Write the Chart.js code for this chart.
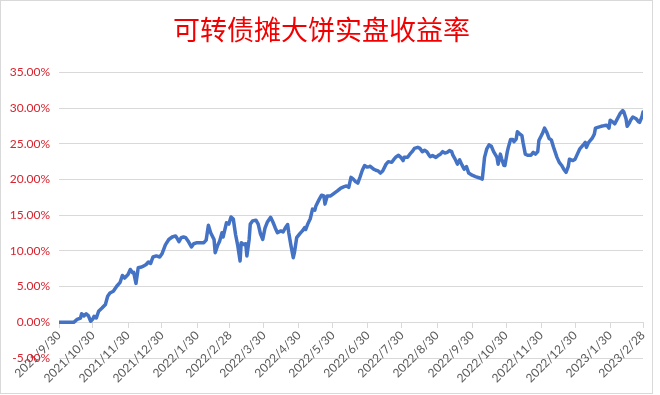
<!DOCTYPE html>
<html>
<head>
<meta charset="utf-8">
<script src="https://cdn.jsdelivr.net/npm/chart.js@4.4.1/dist/chart.umd.min.js"></script>
<style>
  html, body { margin: 0; padding: 0; background: #fff; }
  #wrap { position: relative; width: 660px; height: 395px; }
  #chart { position: absolute; left: 0; top: 0; }
  #frame { position: absolute; left: 0; top: 0; width: 651px; height: 392px; border: 1px solid #d9d9d9; pointer-events: none; }
</style>
</head>
<body>
<div id="wrap">
  <canvas id="chart" width="660" height="395"></canvas>
  <div id="frame"></div>
</div>
<script>
const titleText = "可转债摊大饼实盘收益率";

// x tick labels and their day offsets from 2021/9/30
const monthLabels = ["2021/9/30", "2021/10/30", "2021/11/30", "2021/12/30", "2022/1/30", "2022/2/28",
  "2022/3/30", "2022/4/30", "2022/5/30", "2022/6/30", "2022/7/30", "2022/8/30", "2022/9/30",
  "2022/10/30", "2022/11/30", "2022/12/30", "2023/1/30", "2023/2/28"];
const monthDays = [0, 30, 61, 91, 122, 151, 181, 212, 242, 273, 303, 334, 365, 395, 426, 456, 487, 516];

// days since 2021/9/30
const days = [0, 13, 16, 19, 20, 22, 24, 26, 28, 30, 31, 33, 35, 38, 41, 43, 45, 48, 51, 54, 56, 58, 61, 63, 65, 66, 68, 70, 73, 75, 77, 79, 81, 83, 86, 89, 91, 94,
  97, 100, 103, 104, 106, 108, 110, 112, 114, 117, 119, 122, 128, 130, 132, 134, 137, 138, 140, 142, 144, 145, 148, 150, 152, 154, 156, 158, 160, 161, 163, 165, 166, 168, 169, 171, 174, 176, 178, 180, 182, 184, 187,
  189, 191, 193, 196, 198, 200, 202, 203, 205, 207, 208, 210, 213, 215, 217, 218, 220, 222, 224, 226, 227, 230, 232, 234, 235, 237, 240, 243, 246, 249, 252, 254, 256, 258, 260, 262, 264, 266, 268, 270, 272, 274,
  275, 278, 280, 282, 284, 286, 289, 291, 294, 296, 298, 300, 302, 304, 305, 308, 310, 312, 314, 317, 319, 321, 323, 325, 327, 328, 330, 333, 335, 337, 339, 341, 343, 345, 347, 348, 350, 352, 354, 356, 358, 360, 362, 365, 368, 371, 374,
  376, 378, 380, 382, 384, 387, 388, 390, 391, 393, 394, 396, 397, 399, 401, 402, 404, 405, 407, 409, 410, 412, 414, 417, 419, 421, 423, 424, 427, 429, 431, 433, 435, 437, 440, 442, 444, 446, 448, 450,
  451, 454, 456, 458, 460, 463, 465, 466, 468, 471, 473, 474, 476, 479, 482, 484, 486, 487, 489, 491, 494, 496, 498, 499, 501, 502, 504, 505, 507, 510, 512, 513, 515, 516];

// cumulative return, %
const returns = [0, 0, 0.4, 0.6, 1.2, 0.9, 1.2, 0.9, 0.15, 0.5, 0.85, 0.6, 1.55, 2.0, 2.5, 3.65, 4.1, 4.35, 5.05, 5.6, 6.55, 6.2, 6.7, 7.4, 6.95, 7.0, 5.45, 7.65, 7.75, 7.9, 8.1, 8.45, 8.25, 9.15, 9.3, 9.15, 9.6, 10.85,
  11.6, 11.95, 12.1, 11.85, 11.3, 11.85, 11.95, 11.85, 11.4, 10.55, 11.0, 11.15, 11.15, 11.5, 13.6, 12.55, 11.6, 9.75, 10.7, 11.4, 12.55, 11.95, 13.95, 13.75, 14.75, 14.45, 12.3, 10.7, 8.6, 11.15, 10.9, 11.0, 9.3, 11.6, 13.75, 14.2, 14.3, 13.75, 12.4, 11.6, 13.2, 14.0, 14.7,
  14.05, 13.25, 12.55, 12.8, 12.65, 13.25, 13.7, 12.55, 10.7, 9.05, 9.75, 11.85, 12.45, 12.8, 13.25, 13.0, 13.85, 14.5, 15.85, 15.7, 16.3, 17.25, 17.8, 17.7, 16.55, 17.7, 17.7, 18.05, 18.4, 18.8, 19.0, 19.1, 18.9, 20.3, 20.05, 19.7, 19.5, 20.35, 21.3, 21.95, 21.75, 21.8,
  21.85, 21.45, 21.3, 21.2, 20.9, 21.2, 22.15, 22.5, 22.4, 22.85, 23.2, 23.4, 23.1, 22.65, 23.1, 23.1, 23.55, 23.9, 24.35, 24.5, 24.35, 23.9, 24.1, 23.9, 23.4, 23.2, 23.35, 23.1, 23.35, 23.55, 23.9, 23.7, 23.8, 24.05, 23.9, 23.4, 22.85, 22.15, 22.75, 22.05, 21.45, 21.8, 20.9, 20.6, 20.4, 20.25, 20.05,
  23.1, 24.3, 24.85, 24.65, 23.9, 23.1, 22.15, 23.55, 22.95, 22.0, 21.95, 23.8, 24.5, 25.6, 25.6, 25.3, 25.7, 26.7, 26.4, 26.15, 25.2, 23.55, 23.4, 23.4, 23.8, 23.55, 23.9, 25.45, 26.4, 27.2, 26.6, 25.75, 25.55, 24.5, 23.1, 22.4, 22.0, 21.45, 21.0, 21.85,
  22.85, 22.65, 22.85, 23.55, 24.25, 24.8, 25.2, 24.5, 25.2, 25.75, 26.35, 27.2, 27.3, 27.45, 27.55, 27.6, 27.2, 28.3, 28.1, 27.8, 28.7, 29.3, 29.65, 29.5, 28.5, 27.45, 27.95, 28.3, 28.75, 28.5, 28.1, 28.0, 28.75, 29.45];

const points = days.map((d, i) => ({ x: d, y: returns[i] }));

const chart = new Chart(document.getElementById("chart"), {
  type: "line",
  data: {
    datasets: [{
      data: points,
      borderColor: "#4472c4",
      borderWidth: 3.5,
      pointRadius: 0,
      tension: 0,
      borderJoinStyle: "round",
      borderCapStyle: "round"
    }]
  },
  options: {
    responsive: false,
    animation: false,
    layout: { padding: { left: 0, right: 17, top: 0, bottom: 37 } },
    plugins: {
      legend: { display: false },
      tooltip: { enabled: false },
      title: {
        display: true,
        text: titleText,
        color: "#f00000",
        font: { family: "'Noto Sans CJK SC'", size: 27, weight: "normal" },
        padding: { top: 14, bottom: 26 }
      }
    },
    scales: {
      x: {
        type: "linear",
        position: { y: 0 },
        min: 0,
        max: 516,
        afterBuildTicks: s => { s.ticks = monthDays.map(v => ({ value: v })); },
        ticks: {
          autoSkip: false,
          minRotation: 45,
          maxRotation: 45,
          padding: 1,
          color: "#595959",
          font: { family: "Lato", size: 12 },
          callback: (v, i) => monthLabels[i]
        },
        grid: { drawOnChartArea: false, drawTicks: true, tickLength: 5, color: "#d9d9d9" },
        border: { display: true, color: "#d9d9d9" }
      },
      y: {
        min: -5,
        max: 35,
        afterFit: s => { s.width = 59; },
        ticks: {
          stepSize: 5,
          padding: 9,
          color: "#d9232e",
          font: { family: "Lato", size: 12 },
          callback: v => v.toFixed(2) + "%"
        },
        grid: { color: "#d9d9d9", drawTicks: false },
        border: { display: false }
      }
    }
  }
});
</script>
</body>
</html>
